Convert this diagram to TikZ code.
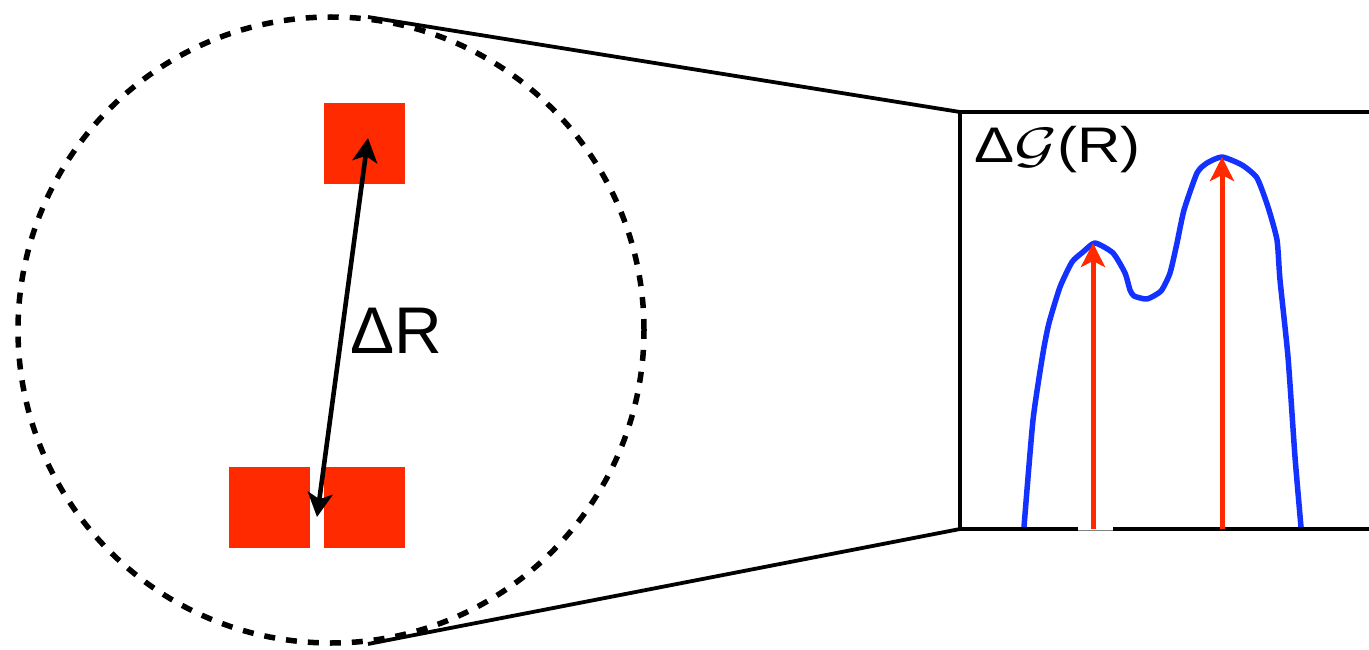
\documentclass[tikz,border=0pt]{standalone}
\usepackage{graphicx}
\usepackage{fontspec}
\setmainfont{Liberation Sans}
\usetikzlibrary{arrows.meta}
\definecolor{peakred}{RGB}{255,42,0}
\definecolor{curveblue}{RGB}{20,50,255}
\newcommand{\bigcalG}{\scalebox{2.2}[2.0]{\fontsize{24.88}{30}\selectfont$\mathcal{G}$}}
\newcommand{\wide}[1]{\scalebox{1.2}[1]{#1}}
\begin{document}
\begin{tikzpicture}[x=1pt,y=-1pt,
  site/.style={rectangle, fill=peakred, draw=none, minimum size=81pt, inner sep=0pt},
  lensring/.style={circle, draw=black, line width=5.5pt, dash pattern=on 11pt off 11pt,
                   minimum size=626pt, inner sep=0pt},
  edge/.style={draw=black, line width=3.8pt, line join=miter},
  sepline/.style={draw=black, line width=4.6pt,
                  {Stealth[length=24pt, width=25pt, inset=6pt]}-{Stealth[length=24pt, width=25pt, inset=6pt]}},
  peakarrow/.style={draw=peakred, line width=5pt, -{Stealth[length=24pt, width=24pt, inset=6pt]}},
  profile/.style={draw=curveblue, line width=5.5pt, line join=round},
  bigtext/.style={inner sep=0pt, anchor=base west, font=\fontsize{66}{80}\selectfont},
  boxtext/.style={inner sep=0pt, anchor=base west, font=\fontsize{50}{60}\selectfont}]
\useasboundingbox (0,0) rectangle (1369,650);

% magnified region
\node[lensring] (lens) at (331,330) {};
\coordinate (lensTop) at (368,17);
\coordinate (lensBot) at (368,644);

% three sites
\node[site] (siteA) at (364,143.5) {};
\node[site] (siteB) at (269.5,507.5) {};
\node[site] (siteC) at (364.5,507.5) {};

% separation between the sites
\coordinate (sepLow) at (317,517);
\coordinate (sepHigh) at (368,138);
\draw[sepline] (sepLow) -- (sepHigh);
\node[bigtext] (dR) at (350,353) {ΔR};

% plot frame
\coordinate (boxTL) at (960,112);
\coordinate (boxBL) at (960,529);
\coordinate (boxTR) at (1369,112);
\coordinate (boxBR) at (1369,529);
\draw[edge] (lensTop) -- (boxTL);
\draw[edge] (lensBot) -- (boxBL);
\draw[edge] (boxTR) -- (boxTL) -- (boxBL) -- (boxBR);
\fill[white] (1078,525.5) rectangle (1113,530.2);
\draw[gray, line width=0.8pt] (1078,530.6) -- (1113,530.6);

\node[boxtext] (dG) at (974,163) {\wide{Δ\bigcalG(R)}};

% distribution curve
\draw[profile] plot[smooth, tension=0.35] coordinates {
  (1024,527) (1033,420) (1043,353) (1049,323) (1060,287) (1072,262) (1083,252)
  (1095,243) (1113,253) (1125,273) (1130,290) (1134,296) (1147,299) (1161,291)
  (1170,273) (1177,243) (1184,210) (1197,173) (1207,163) (1222,157) (1242,165)
  (1257,178) (1268,207) (1277,240) (1280,280) (1288,357) (1295,457) (1301,527)};

% peak positions
\coordinate (baseA) at (1093,529);
\coordinate (peakA) at (1093,243);
\coordinate (baseB) at (1222,529);
\coordinate (peakB) at (1222,157);
\draw[peakarrow] (baseA) -- (peakA);
\draw[peakarrow] (baseB) -- (peakB);
\end{tikzpicture}
\end{document}
